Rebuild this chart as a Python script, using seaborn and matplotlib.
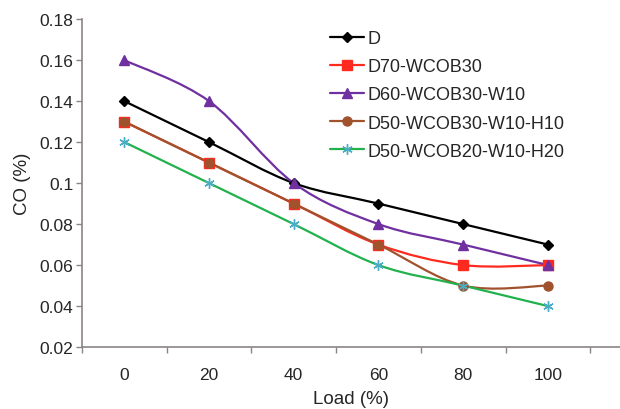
import numpy as np
import matplotlib
matplotlib.use("Agg")
import matplotlib.pyplot as plt
from matplotlib.path import Path
from matplotlib.patches import PathPatch
from matplotlib.lines import Line2D
import seaborn as sns

# Data
loads = [0, 20, 40, 60, 80, 100]
series_names = ["D", "D70-WCOB30", "D60-WCOB30-W10", "D50-WCOB30-W10-H10", "D50-WCOB20-W10-H20"]
co_d = [0.14, 0.12, 0.10, 0.09, 0.08, 0.07]
co_d70 = [0.13, 0.11, 0.09, 0.07, 0.06, 0.06]
co_d60 = [0.16, 0.14, 0.10, 0.08, 0.07, 0.06]
co_d50_h10 = [0.13, 0.11, 0.09, 0.07, 0.05, 0.05]
co_d50_h20 = [0.12, 0.10, 0.08, 0.06, 0.05, 0.04]
y_ticks = [0.02, 0.04, 0.06, 0.08, 0.1, 0.12, 0.14, 0.16, 0.18]
y_ticklabels = ["0.02", "0.04", "0.06", "0.08", "0.1", "0.12", "0.14", "0.16", "0.18"]

# style per series: line colour, marker, marker face, marker edge, size
styles = [
    ("#000000", "D", "#000000", "#000000", 5.5),
    ("#ff2a1f", "s", "#ff2a1f", "#ff2a1f", 6.5),
    ("#7030a0", "^", "#7030a0", "#7030a0", 7.0),
    ("#a0522d", "o", "#a0522d", "#a0522d", 6.5),
    ("#22b14c", (6, 2, 0), "#4bacc6", "#4bacc6", 7.5),
]
all_values = [co_d, co_d70, co_d60, co_d50_h10, co_d50_h20]

sns.set_style("ticks")
plt.rcParams["font.family"] = ["Liberation Sans", "DejaVu Sans"]

fig = plt.figure(figsize=(6.2, 4.1), dpi=100)
ax = fig.add_axes([0.132, 0.151, 0.868, 0.80])


def smooth_path(xs, ys):
    # Excel-style smoothed line: cubic Bezier through the points
    pts = np.column_stack([xs, ys]).astype(float)
    n = len(pts)
    verts = [pts[0]]
    codes = [Path.MOVETO]
    for i in range(n - 1):
        p0, p3 = pts[i], pts[i + 1]
        prev = pts[i - 1] if i > 0 else pts[i]
        nxt = pts[i + 2] if i + 2 < n else pts[i + 1]
        c1 = p0 + (p3 - prev) / 6.0
        c2 = p3 - (nxt - p0) / 6.0
        verts += [c1, c2, p3]
        codes += [Path.CURVE4] * 3
    return Path(verts, codes)


xpos = np.arange(len(loads))
handles = []
for name, vals, (lc, mk, mfc, mec, ms) in zip(series_names, all_values, styles):
    ax.add_patch(PathPatch(smooth_path(xpos, vals), facecolor="none", edgecolor=lc, lw=1.6, zorder=2))
    sns.lineplot(x=xpos, y=vals, ax=ax, linestyle="none", marker=mk, markersize=ms,
                 markerfacecolor=mfc, markeredgecolor=mec, markeredgewidth=1.0,
                 zorder=3, legend=False)
    handles.append(Line2D([], [], color=lc, lw=1.6, marker=mk, markersize=ms,
                          markerfacecolor=mfc, markeredgecolor=mec, markeredgewidth=1.0))

ax.set_xlim(-0.5, 5.85)
ax.set_ylim(0.02, 0.18)
ax.set_yticks(y_ticks)
ax.set_yticklabels(y_ticklabels)
ax.set_xticks(xpos)
ax.set_xticklabels([str(v) for v in loads])
ax.set_xticks(np.arange(-0.5, 6, 1.0), minor=True)
ax.tick_params(axis="x", which="major", length=0, labelsize=12.5, pad=14)
ax.tick_params(axis="x", which="minor", length=4, width=1, color="#8c8484", direction="out")
ax.tick_params(axis="y", length=4, width=1, color="#8c8484", direction="out", labelsize=12.5, pad=2)

for side in ["top", "right"]:
    ax.spines[side].set_visible(False)
for side in ["left", "bottom"]:
    ax.spines[side].set_color("#8c8484")
    ax.spines[side].set_linewidth(1.2)

ax.set_xlabel("Load (%)", fontsize=13.5, labelpad=6)
ax.set_ylabel("CO (%)", fontsize=13.5, labelpad=6)

ax.legend(handles, series_names, loc="upper left", bbox_to_anchor=(330 / 620, 1 - 31 / 410),
          bbox_transform=fig.transFigure, frameon=False, fontsize=13, handlelength=1.9,
          handletextpad=0.2, labelspacing=0.62, borderpad=0, borderaxespad=0)

fig.savefig("out.png", dpi=100)
